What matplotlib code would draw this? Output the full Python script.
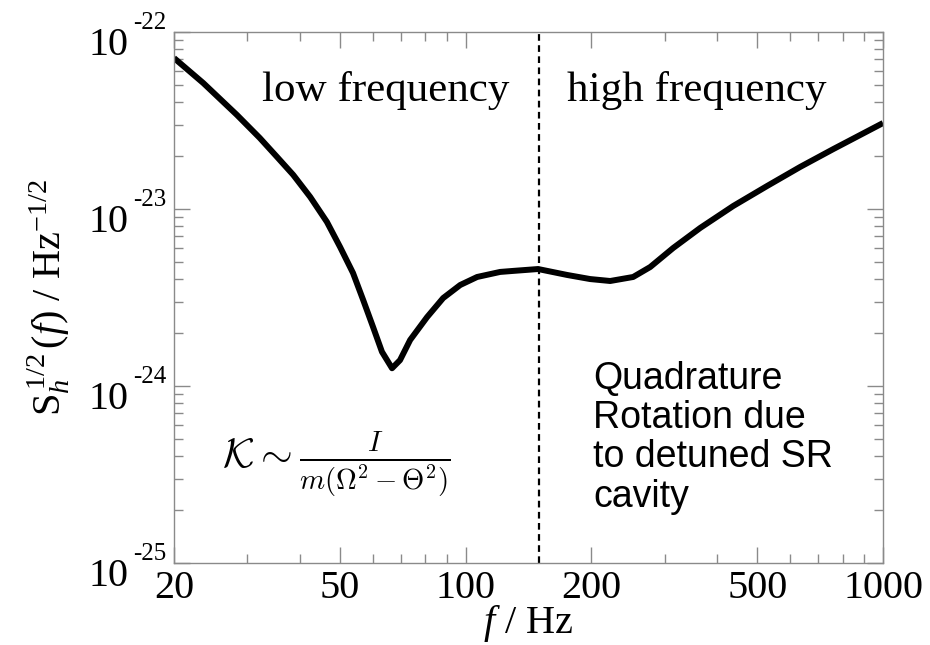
import numpy as np
import matplotlib
matplotlib.use('Agg')
import matplotlib.pyplot as plt

plt.rcParams['font.family'] = ['Liberation Serif', 'DejaVu Serif']
plt.rcParams['mathtext.fontset'] = 'custom'
plt.rcParams['mathtext.rm'] = 'Liberation Serif'
plt.rcParams['mathtext.it'] = 'Liberation Serif:italic'
plt.rcParams['mathtext.bf'] = 'Liberation Serif:bold'

# noise curve, frequency in Hz and strain sensitivity in 1/sqrt(Hz)
freq = [20, 23.5, 28.3, 32.1, 35.3, 38.6, 42.4, 46.5, 50.0, 53.7, 56.8,
        60.0, 63.0, 66.6, 69.6, 73.6, 80.8, 88.3, 97.0, 106.5, 120.9, 130,
        149.1, 175.0, 198.7, 221.9, 251.9, 276.7, 314.1, 364.8, 437.6,
        527.8, 633.5, 759.9, 1000]
noise = [7.13e-23, 5.15e-23, 3.40e-23, 2.52e-23, 1.97e-23, 1.56e-23,
         1.17e-23, 8.45e-24, 6.10e-24, 4.35e-24, 3.06e-24, 2.15e-24,
         1.56e-24, 1.26e-24, 1.40e-24, 1.82e-24, 2.45e-24, 3.14e-24,
         3.72e-24, 4.13e-24, 4.41e-24, 4.47e-24, 4.58e-24, 4.24e-24,
         4.02e-24, 3.92e-24, 4.13e-24, 4.70e-24, 6.02e-24, 7.82e-24,
         1.04e-23, 1.35e-23, 1.73e-23, 2.18e-23, 3.06e-23]

split_freq = 150
xticks = [20, 50, 100, 200, 500, 1000]
ydecades = [-25, -24, -23, -22]

fig = plt.figure(figsize=(9.3, 6.45), dpi=100)
ax = fig.add_axes([0.1871, 0.1271, 0.7624, 0.8233])

ax.plot(freq, noise, color='k', linewidth=4.3, solid_joinstyle='round',
        solid_capstyle='butt')
ax.axvline(split_freq, color='k', linewidth=1.6, linestyle=(0, (3, 2)))

ax.set_xscale('log')
ax.set_yscale('log')
ax.set_xlim(20, 1000)
ax.set_ylim(1e-25, 1e-22)

gray = '#8a8a8a'
for s in ax.spines.values():
    s.set_color(gray)
    s.set_linewidth(1.0)

ax.set_xticks(xticks)
ax.set_xticklabels([str(t) for t in xticks])
ax.set_yticks([10.0 ** d for d in ydecades])
ax.set_yticklabels(['' for d in ydecades])
ax.tick_params(which='both', direction='in', top=True, right=True,
               color=gray, width=1.0)
ax.tick_params(which='major', length=11.5, pad=5, labelsize=29)
ax.tick_params(which='minor', length=6.5)
ax.xaxis.set_minor_formatter(plt.NullFormatter())

# decade labels drawn as "10" plus a small exponent
for d in ydecades:
    ax.annotate('10', xy=(0, 10.0 ** d), xycoords=('axes fraction', 'data'),
                xytext=(-33, -16.5), textcoords='offset points',
                ha='right', va='baseline', fontsize=29)
    ax.annotate('-%d' % (-d), xy=(0, 10.0 ** d), xycoords=('axes fraction', 'data'),
                xytext=(-5.8, 2.2), textcoords='offset points',
                ha='right', va='baseline', fontsize=18)

ax.set_xlabel(r'$f$ / Hz', fontsize=29, labelpad=-3)
ax.set_ylabel(r'S$_{h}^{\,1/2}\,$($f$) / Hz$^{-1/2}$', fontsize=29)
ax.yaxis.set_label_coords(-0.144, 0.5)

ax.text(0.124, 0.870, 'low frequency', transform=ax.transAxes,
        fontsize=31, ha='left', va='baseline')
ax.text(0.554, 0.870, 'high frequency', transform=ax.transAxes,
        fontsize=31, ha='left', va='baseline')

ax.text(0.068, 0.186, r'$\mathcal{K} \sim \frac{I}{m(\Omega^2 - \Theta^2)}$',
        transform=ax.transAxes, fontsize=29.5, ha='left', va='center',
        math_fontfamily='cm')

ax.text(0.591, 0.381, 'Quadrature\nRotation due\nto detuned SR\ncavity',
        transform=ax.transAxes, fontsize=27, family='Liberation Sans',
        ha='left', va='top', linespacing=1.12)

fig.savefig('out.png', dpi=100)
